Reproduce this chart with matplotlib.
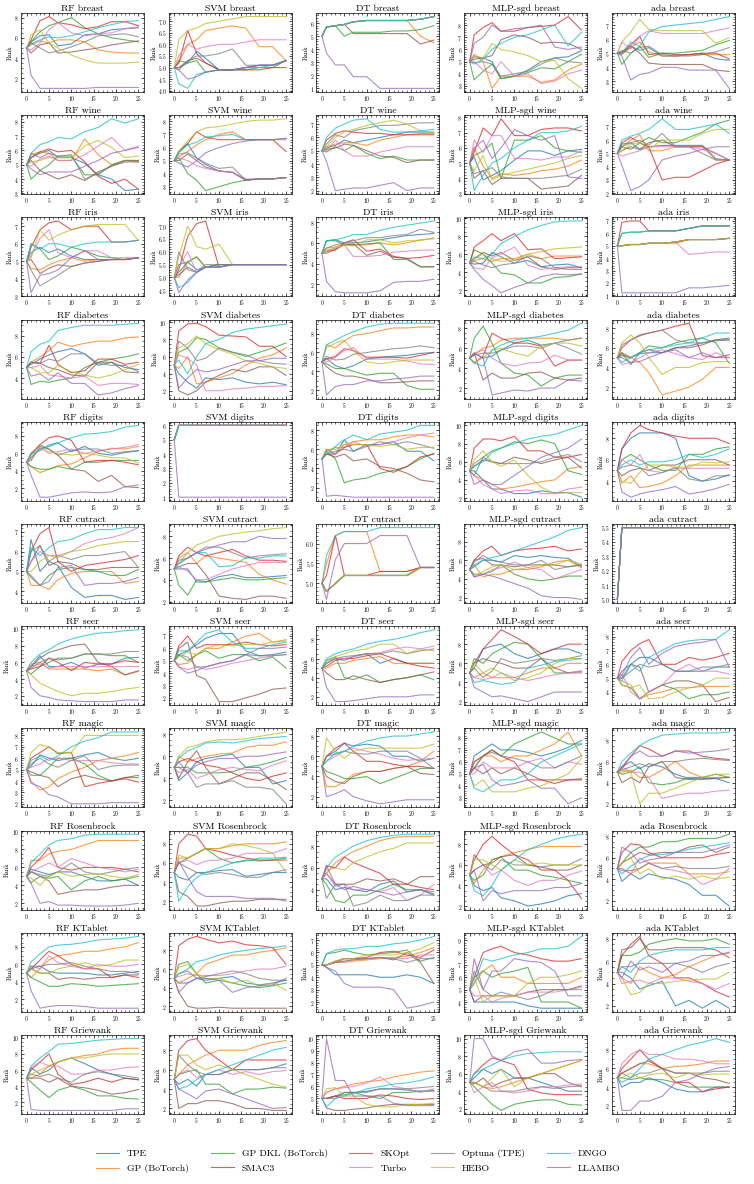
import matplotlib
matplotlib.use("Agg")
import matplotlib.pyplot as plt
from matplotlib.ticker import AutoMinorLocator

plt.rcParams['font.family'] = ['serif']
plt.rcParams['font.serif'] = ['cmr10', 'DejaVu Serif']
plt.rcParams['mathtext.fontset'] = 'cm'
plt.rcParams['axes.formatter.use_mathtext'] = True

ITER = [0, 1, 3, 5, 7, 10, 13, 16, 19, 22, 25]
METHODS = ["TPE", "GP (BoTorch)", "GP DKL (BoTorch)", "SMAC3", "SKOpt",
           "Turbo", "Optuna (TPE)", "HEBO", "DNGO", "LLAMBO"]
MODELS = ["RF", "SVM", "DT", "MLP-sgd", "ada"]
DATASETS = ["breast", "wine", "iris", "diabetes", "digits", "cutract", "seer",
            "magic", "Rosenbrock", "KTablet", "Griewank"]

# ---- rows: series in METHODS order ----
RF_breast = [[5,5.6,6.2,6.3,5.2,5.4,6.3,6.4,6.8,6.9,7.0],[5,5.3,5.7,5.5,5.8,5.8,5.6,4.8,4.6,4.5,4.5],[5,5.6,6.6,7.2,7.5,8.0,7.0,6.4,6.0,5.8,5.6],[5,5.8,7.7,8.1,7.5,7.3,6.9,7.1,7.6,7.6,7.2],[5,4.5,5.3,5.5,4.5,4.6,4.8,5.0,5.3,5.5,5.7],[5,4.8,5.5,6.8,7.5,6.5,6.2,6.4,6.5,6.9,7.1],[5,5.5,5.0,4.5,4.7,5.1,5.6,6.2,6.3,6.4,6.1],[5,6.3,6.8,5.5,5.0,4.3,3.8,3.5,3.5,3.5,3.6],[5,5.4,5.8,6.1,6.0,6.2,6.6,7.0,7.3,7.6,7.7],[5,2.3,1.0,1.0,1.0,1.0,1.0,1.1,1.1,1.1,1.1]]
SVM_breast = [[5,5.0,5.2,5.7,5.4,4.9,4.9,5.0,5.1,5.1,5.3],[5,5.2,6.0,6.2,6.6,6.7,6.8,6.7,5.9,5.9,5.3],[5,5.3,5.2,5.3,4.8,4.9,4.9,4.9,5.0,5.0,5.3],[5,5.2,6.6,5.6,5.2,4.9,4.9,4.9,4.9,5.0,5.0],[5,4.9,5.3,5.4,5.2,4.9,4.9,5.0,5.1,5.1,5.3],[5,5.5,6.0,5.8,5.9,6.0,6.0,6.1,6.2,6.2,6.2],[5,5.0,5.3,5.5,5.5,5.6,5.8,5.1,5.1,5.1,5.3],[5,6.2,6.6,6.7,6.9,7.0,7.1,7.2,7.2,7.2,7.2],[5,4.3,4.1,4.7,4.8,4.9,4.9,5.0,5.0,5.1,5.3],[5,4.9,4.5,4.6,4.8,4.9,4.9,5.0,5.1,5.1,5.3]]
DT_breast = [[5,5.7,5.8,5.9,6.1,6.2,6.2,6.2,6.2,6.3,6.5],[5,5.7,5.8,5.9,6.1,6.2,6.2,6.2,6.2,5.0,4.5],[5,5.7,5.8,5.0,5.3,5.3,5.3,5.4,5.4,5.5,5.8],[5,5.7,5.8,5.9,6.1,6.2,6.2,6.2,6.2,6.3,6.5],[5,5.7,5.8,5.9,5.2,5.2,5.2,5.2,5.2,4.4,4.7],[5,5.7,5.8,5.9,6.1,6.2,6.2,6.2,6.2,6.3,6.5],[5,5.7,5.8,5.9,6.1,6.2,6.2,6.2,6.2,6.3,6.5],[5,5.7,5.8,5.9,6.1,6.2,6.2,6.2,6.2,6.3,6.5],[5,5.7,5.8,5.9,6.1,6.2,6.2,6.2,6.2,6.3,6.5],[5,3.7,2.8,2.8,1.9,1.9,1.0,1.0,1.0,1.0,1.0]]
MLP_breast = [[5,5.4,5.3,5.0,3.6,3.8,4.3,5.0,5.3,5.4,5.9],[5,5.6,5.0,2.8,3.8,3.8,3.8,3.3,3.5,4.3,4.8],[5,3.5,4.2,4.8,3.6,3.8,4.1,4.5,4.4,5.0,5.6],[5,7.2,7.8,8.2,7.5,7.5,7.8,7.9,8.0,8.7,7.6],[5,5.2,5.3,5.5,6.8,7.2,7.0,6.5,6.6,6.5,6.0],[5,5.0,4.3,4.0,5.0,3.8,4.0,3.2,3.4,4.0,4.3],[5,4.9,5.0,4.8,3.8,4.0,4.2,4.8,5.3,5.0,4.9],[5,5.5,5.3,6.5,6.0,5.8,5.5,5.0,5.1,3.6,2.8],[5,4.8,5.2,6.0,6.5,7.0,7.2,7.6,8.0,6.3,7.4],[5,6.5,7.0,8.0,7.5,7.7,7.8,8.0,6.2,6.0,6.2]]
ada_breast = [[5,5.0,5.5,5.2,5.4,4.8,4.8,4.9,5.0,4.6,4.5],[5,4.9,5.4,5.8,5.1,4.8,4.8,4.9,4.9,4.9,4.9],[5,4.2,5.0,5.5,4.7,5.0,5.0,5.1,5.2,5.6,5.9],[5,5.1,5.6,6.2,4.9,5.0,4.9,4.9,5.0,5.0,4.6],[5,5.0,5.5,5.0,4.3,4.2,4.2,4.2,4.2,3.8,3.7],[5,5.8,5.3,6.2,6.6,6.4,6.4,6.4,6.4,6.6,6.8],[5,5.2,5.0,5.4,5.5,4.9,4.8,4.8,4.9,5.1,5.4],[5,5.8,6.5,7.4,6.7,6.6,6.6,6.6,6.6,5.7,6.1],[5,5.0,5.8,5.5,6.5,6.9,7.0,7.1,7.2,7.4,7.6],[5,4.8,3.1,3.5,3.6,4.0,4.0,3.8,3.8,3.8,2.5]]

RF_wine = [[5,5.5,5.8,6.0,5.5,5.5,5.1,4.3,4.0,3.2,3.3],[5,5.7,5.9,5.8,5.3,5.3,6.8,5.7,5.0,5.3,5.2],[5,4.0,4.6,5.0,5.6,5.6,4.3,4.3,5.0,5.3,5.3],[5,5.5,5.9,6.1,5.9,6.0,5.2,4.2,3.7,4.0,3.3],[5,5.3,4.6,4.3,4.0,4.3,3.9,4.5,4.9,5.2,5.2],[5,4.9,5.4,5.6,5.3,5.3,5.7,6.3,6.9,6.0,6.3],[5,5.8,5.5,5.8,5.6,5.7,4.0,4.4,4.9,5.3,5.3],[5,5.2,5.3,5.5,5.5,5.5,6.3,6.7,6.2,5.5,5.6],[5,5.8,6.4,6.6,6.9,6.8,7.3,7.6,8.2,7.9,8.2],[5,4.7,4.3,4.5,4.5,4.5,4.9,5.3,5.8,6.0,6.2]]
SVM_wine = [[5,5.7,6.3,5.2,4.7,4.2,4.1,3.5,3.6,3.6,3.7],[5,5.3,5.7,6.2,6.6,7.0,7.2,6.6,6.6,6.6,6.6],[5,5.2,4.0,3.5,2.7,3.0,3.3,3.5,3.6,3.6,3.7],[5,5.7,6.3,7.2,6.8,6.6,6.6,6.6,6.6,6.6,5.7],[5,5.0,5.5,5.0,4.5,4.2,4.1,3.5,3.6,3.6,3.7],[5,5.2,5.0,4.6,4.4,4.2,4.1,3.6,3.6,3.6,3.7],[5,5.5,5.6,5.2,4.8,4.4,4.5,3.5,3.6,3.6,3.7],[5,5.7,6.5,7.2,7.5,7.6,7.8,8.0,8.1,8.1,8.2],[5,5.6,6.2,6.4,6.8,6.9,7.0,6.6,6.6,6.6,6.7],[5,4.8,4.5,5.0,5.6,6.0,6.3,6.5,6.6,6.6,6.7]]
DT_wine = [[5,5.2,5.4,5.8,5.6,5.8,6.0,6.2,6.4,6.4,6.4],[5,5.3,5.5,5.6,5.6,5.4,5.8,6.0,6.2,6.3,6.3],[5,4.9,5.3,5.0,5.4,4.8,4.4,4.6,4.3,4.3,4.3],[5,5.8,6.3,6.5,6.4,6.3,6.3,6.2,6.2,6.2,6.2],[5,5.1,5.2,5.5,5.4,5.0,4.6,4.5,4.1,4.3,4.3],[5,5.0,5.8,5.0,4.6,4.6,4.9,5.1,5.3,5.3,5.3],[5,5.5,6.2,6.0,6.5,6.7,6.9,6.9,7.0,7.1,7.1],[5,5.3,6.0,6.4,6.6,6.9,7.1,7.3,7.0,6.5,6.3],[5,6.0,6.7,7.0,7.3,7.4,6.6,6.4,6.4,6.5,6.6],[5,4.2,2.0,2.1,2.2,2.2,2.4,2.6,2.0,2.2,2.2]]
MLP_wine = [[5,5.4,3.9,4.2,4.5,5.2,5.8,5.8,5.5,5.8,5.9],[5,6.0,4.8,4.0,4.3,4.2,4.3,4.5,4.6,4.8,5.2],[5,5.5,5.8,6.3,4.0,6.5,6.5,6.8,6.0,5.8,5.7],[5,5.7,7.3,6.8,7.9,6.8,6.8,7.2,7.3,7.3,7.1],[5,4.0,4.5,3.6,4.0,4.0,4.0,3.3,3.4,3.5,4.2],[5,6.5,5.7,6.8,6.8,5.3,5.3,5.2,5.4,5.4,5.8],[5,4.3,4.5,4.7,4.1,4.0,4.0,4.0,4.1,4.2,4.6],[5,4.5,5.5,3.9,4.2,4.4,4.6,4.8,5.0,5.3,5.5],[5,3.2,4.2,5.0,5.3,6.0,6.5,7.0,7.0,7.1,7.4],[5,6.0,6.5,5.3,6.0,7.2,6.8,6.5,6.8,4.1,4.0]]
ada_wine = [[5,5.7,5.8,5.3,5.5,5.6,5.6,5.6,5.6,4.6,4.5],[5,5.5,6.0,6.4,5.2,5.2,5.5,5.5,5.5,4.5,4.5],[5,5.5,5.3,5.8,6.2,5.8,5.8,6.2,6.6,7.2,7.5],[5,5.8,6.2,5.8,5.5,3.0,3.2,3.2,3.7,4.2,4.5],[5,5.2,5.5,5.3,5.8,6.0,5.5,5.5,5.5,5.0,4.5],[5,4.8,5.0,5.2,5.5,5.5,5.5,5.5,5.3,5.0,4.5],[5,5.5,5.8,6.0,5.6,6.5,5.5,5.5,5.0,4.5,4.5],[5,5.2,5.7,5.8,5.3,6.0,6.0,6.0,6.5,6.8,6.8],[5,6.0,6.3,6.5,6.8,7.6,6.8,6.8,7.0,7.2,6.5],[5,4.1,2.2,2.5,3.0,4.5,4.8,5.0,5.3,5.5,5.5]]

RF_iris = [[5,5.5,5.8,5.5,5.7,5.3,5.1,5.1,5.1,5.1,5.2],[5,4.6,4.5,4.8,5.0,5.2,5.0,5.1,5.1,5.1,5.2],[5,6.0,5.7,5.1,5.3,5.8,5.6,5.3,5.2,5.1,5.2],[5,5.8,6.8,7.2,7.3,6.8,7.0,7.0,6.1,6.1,6.2],[5,5.1,4.3,4.6,4.8,4.7,4.9,5.0,5.1,5.1,5.2],[5,5.3,6.3,6.8,5.5,5.2,5.6,5.6,5.2,5.2,5.2],[5,4.5,3.6,3.9,4.2,4.7,4.9,5.0,5.1,5.1,5.2],[5,5.2,6.8,6.2,6.5,6.8,7.0,7.1,7.1,7.1,6.2],[5,6.0,5.7,6.0,6.0,5.8,6.0,6.1,6.1,6.1,6.2],[5,3.2,4.2,4.3,4.5,5.2,5.6,5.1,5.1,5.1,5.2]]
SVM_iris = [[5,5.2,5.6,5.3,5.4,5.5,5.5,5.5,5.5,5.5,5.5],[5,5.0,5.6,5.8,5.4,5.5,5.5,5.5,5.5,5.5,5.5],[5,5.5,5.6,5.8,5.4,5.5,5.5,5.5,5.5,5.5,5.5],[5,5.3,6.6,7.1,7.2,5.4,5.5,5.5,5.5,5.5,5.5],[5,5.1,5.4,5.2,5.4,5.4,5.5,5.5,5.5,5.5,5.5],[5,5.4,6.0,5.2,5.4,5.4,5.5,5.5,5.5,5.5,5.5],[5,6.0,5.3,5.2,5.5,5.5,5.5,5.5,5.5,5.5,5.5],[5,5.8,7.0,6.2,6.1,6.3,5.5,5.5,5.5,5.5,5.5],[5,4.6,4.8,5.2,5.4,5.4,5.5,5.5,5.5,5.5,5.5],[5,4.4,4.9,5.2,5.4,5.4,5.5,5.5,5.5,5.5,5.5]]
DT_iris = [[5,6.2,6.3,6.0,6.0,6.1,6.3,6.5,6.7,6.8,6.9],[5,5.5,5.6,5.9,5.8,5.8,6.0,5.8,6.0,6.3,6.4],[5,6.2,6.2,5.8,5.8,5.9,6.0,4.4,4.4,3.7,3.7],[5,5.2,5.3,6.0,6.3,5.2,5.4,4.7,4.5,4.6,4.8],[5,5.0,5.4,5.8,5.9,4.8,5.2,4.6,4.5,3.7,3.7],[5,5.2,5.5,5.8,4.7,4.7,4.8,5.1,5.2,5.3,5.3],[5,5.5,5.8,6.0,6.2,6.5,6.5,6.7,6.8,7.3,7.0],[5,5.3,5.5,5.8,5.7,6.3,6.3,6.0,6.2,6.2,6.5],[5,6.2,6.3,6.5,6.8,6.8,7.2,7.5,7.7,7.9,8.1],[5,2.3,1.3,1.2,1.2,1.2,1.4,2.2,2.3,2.3,2.5]]
MLP_iris = [[5,4.9,5.0,6.2,5.7,5.0,5.3,4.6,4.8,4.9,4.5],[5,5.3,5.5,5.2,5.5,5.5,6.0,5.5,5.8,5.8,5.8],[5,6.5,6.0,5.0,3.9,3.7,2.8,2.8,3.4,3.5,3.8],[5,6.8,7.5,8.3,7.5,8.3,6.5,6.6,5.5,5.6,5.7],[5,5.5,6.2,5.8,6.2,5.3,5.7,4.6,4.3,4.5,4.5],[5,4.5,4.3,5.6,6.0,6.8,4.8,4.3,4.5,4.6,4.6],[5,5.2,4.8,4.5,4.8,5.0,5.8,5.5,4.5,4.3,4.3],[5,5.5,6.0,5.5,5.2,5.3,6.0,6.3,6.6,6.7,6.8],[5,5.7,5.5,6.0,7.2,8.0,8.7,9.2,9.6,9.7,9.7],[5,4.3,3.2,2.5,1.7,2.3,2.8,3.5,3.8,3.7,3.8]]
ada_iris = [[5,5.0,5.1,5.1,5.2,5.2,5.3,5.5,5.5,5.5,5.6],[5,5.0,5.1,5.1,5.2,5.2,5.2,5.5,5.5,5.5,5.6],[5,6.0,6.1,6.1,6.2,6.2,6.2,6.4,6.6,6.6,6.6],[5,6.9,7.0,7.0,6.2,6.2,6.2,6.4,6.6,6.6,6.6],[5,5.0,5.1,5.1,5.2,5.2,5.3,5.5,5.5,5.5,5.6],[5,5.0,5.1,5.1,5.2,5.2,5.3,4.3,4.4,4.5,4.5],[5,5.0,5.1,5.1,5.2,5.2,5.3,5.5,5.5,5.5,5.6],[5,5.0,5.1,5.1,5.2,5.2,5.3,5.5,5.5,5.5,5.6],[5,6.0,6.1,6.1,6.2,6.2,6.2,6.4,6.6,6.6,6.6],[5,1.2,1.2,1.2,1.2,1.2,1.2,1.6,1.6,1.7,1.8]]

RF_diabetes = [[5,5.3,5.8,6.2,6.5,6.8,6.3,5.2,5.5,5.0,4.8],[5,5.5,6.0,6.6,7.4,7.0,7.3,7.5,7.5,7.8,7.9],[5,3.4,3.7,3.6,3.8,4.0,5.0,5.5,5.8,6.0,6.3],[5,5.5,5.4,7.1,5.3,4.5,4.7,5.8,5.8,5.3,5.5],[5,5.5,5.4,5.0,4.8,4.3,4.2,5.5,5.5,4.6,4.5],[5,5.0,5.2,4.3,4.2,4.0,4.2,3.3,3.5,3.5,3.4],[5,5.5,5.4,5.8,5.6,6.3,6.3,5.4,5.2,5.2,4.6],[5,5.0,4.5,4.5,5.2,4.6,4.3,4.0,4.3,4.8,5.3],[5,6.5,7.2,7.5,8.5,8.8,9.0,9.0,9.0,9.1,9.2],[5,4.2,4.4,3.8,4.5,3.5,3.5,2.4,2.6,3.0,3.3]]
SVM_diabetes = [[5,4.0,3.0,2.3,3.5,3.3,3.5,3.0,2.8,3.0,2.7],[5,4.6,6.0,2.8,3.0,3.5,4.0,5.0,5.8,6.2,7.0],[5,6.5,7.0,8.2,8.0,7.0,6.5,6.0,6.5,7.0,7.6],[5,9.0,9.8,9.9,9.5,8.5,8.4,8.3,7.2,7.2,6.0],[5,2.0,1.5,2.0,3.0,3.8,4.5,4.2,4.8,4.8,3.8],[5,6.2,5.8,5.0,2.0,2.0,2.2,2.3,2.5,2.5,2.6],[5,7.8,7.0,5.5,5.8,7.0,6.5,6.2,5.5,5.2,5.1],[5,7.0,7.5,8.4,7.5,6.8,6.3,5.5,5.2,4.8,4.6],[5,5.6,4.0,6.0,7.5,8.0,8.8,9.2,9.4,9.6,9.8],[5,2.3,3.5,4.5,4.2,4.5,5.0,5.5,5.5,5.8,5.8]]
DT_diabetes = [[5,5.4,4.6,4.3,4.6,5.3,5.5,5.6,5.7,5.9,6.0],[5,6.8,6.5,7.2,7.8,8.0,8.3,8.6,8.6,8.7,8.7],[5,4.8,4.3,4.3,4.0,3.6,3.8,3.8,2.5,2.1,2.1],[5,5.3,5.6,6.4,6.2,5.5,5.5,5.5,5.4,5.7,6.0],[5,4.5,3.8,3.5,3.5,3.2,2.8,2.8,2.9,3.0,3.0],[5,5.0,5.5,6.2,6.5,5.3,5.3,5.3,5.1,4.8,4.7],[5,5.6,5.2,5.3,5.8,6.0,6.2,6.4,6.5,6.7,6.5],[5,6.5,7.0,7.3,6.2,5.0,4.8,5.0,5.2,5.2,5.2],[5,6.8,7.3,7.8,8.2,8.7,9.0,9.1,9.1,9.1,9.1],[5,1.5,2.4,2.6,2.6,3.0,3.0,3.2,3.3,3.5,3.5]]
MLP_diabetes = [[5,5.5,5.0,5.2,5.8,6.5,6.8,6.3,6.5,6.8,7.0],[5,5.3,6.0,6.2,6.8,7.0,7.0,7.0,7.0,6.8,7.0],[5,7.0,8.2,6.5,4.5,3.5,3.3,2.2,3.0,3.3,3.3],[5,4.5,5.2,7.5,7.0,6.5,6.5,6.2,4.2,4.8,4.8],[5,5.5,2.8,3.5,3.0,3.0,3.5,3.6,3.0,2.8,3.0],[5,5.5,5.8,5.0,4.5,4.2,4.5,4.6,5.3,4.8,4.8],[5,5.3,5.5,5.5,5.8,6.2,6.2,6.0,6.5,6.0,5.4],[5,4.6,5.0,5.8,6.0,5.5,5.2,6.2,6.5,6.5,6.2],[5,4.5,4.2,5.8,6.3,6.8,7.0,7.2,7.5,7.8,8.5],[5,5.5,5.0,1.3,1.5,1.8,1.7,2.0,2.0,2.8,2.7]]
ada_diabetes = [[5,5.2,5.0,5.4,5.5,5.5,6.0,6.2,6.5,6.8,7.0],[5,5.3,5.0,4.5,3.5,1.2,1.6,2.0,2.8,4.0,4.0],[5,5.5,4.3,5.5,6.2,6.0,6.5,6.8,7.0,6.5,4.4],[5,6.0,6.8,7.3,7.5,7.8,8.2,8.5,5.2,5.0,5.3],[5,5.5,5.0,5.5,5.8,5.5,6.0,6.0,6.3,6.8,6.8],[5,4.3,4.5,5.0,5.5,5.8,5.4,5.0,4.8,5.5,5.0],[5,6.3,6.8,7.2,7.5,7.8,6.8,6.5,6.5,6.7,6.8],[5,6.5,7.3,6.5,5.0,3.3,4.0,4.0,4.5,4.6,4.6],[5,4.5,5.0,5.5,5.8,6.0,6.3,6.5,7.0,7.5,7.5],[5,5.0,4.5,4.6,5.0,5.5,5.8,5.0,5.5,5.0,5.0]]

RF_digits = [[5,5.5,6.5,6.8,7.2,6.2,6.8,6.0,5.8,6.1,6.3],[5,4.5,3.8,4.2,4.6,4.8,5.5,6.2,6.6,6.5,6.8],[5,4.5,4.2,4.2,4.5,4.2,5.0,5.0,5.2,5.2,5.2],[5,6.0,7.0,7.8,8.0,7.5,5.0,5.2,5.2,5.0,4.7],[5,5.2,6.8,6.5,5.8,4.2,4.0,2.8,3.5,2.2,2.1],[5,5.5,6.6,6.0,6.2,6.5,6.0,6.3,6.5,6.7,7.0],[5,5.8,7.0,6.5,5.8,6.3,6.5,6.5,6.0,6.2,6.3],[5,5.5,6.8,6.2,6.0,5.8,6.0,5.8,5.5,5.5,4.9],[5,6.0,6.3,7.0,7.2,7.8,8.2,8.3,8.5,9.0,9.2],[5,3.5,1.0,1.0,1.2,1.5,1.6,1.5,1.6,2.2,2.4]]
SVM_digits = [[5,6,6,6,6,6,6,6,6,6,6],[5,6,6,6,6,6,6,6,6,6,6],[5,6,6,6,6,6,6,6,6,6,6],[5,6,6,6,6,6,6,6,6,6,6],[5,6,6,6,6,6,6,6,6,6,6],[5,6,6,6,6,6,6,6,6,6,6],[5,6,6,6,6,6,6,6,6,6,6],[5,6,6,6,6,6,6,6,6,6,6],[5,6,6,6,6,6,6,6,6,6,6],[5,1,1,1,1,1,1,1,1,1,1]]
DT_digits = [[5,6.0,5.5,7.0,5.8,6.5,6.5,6.8,5.8,5.8,4.8],[5,5.8,6.2,6.2,6.8,7.0,7.0,7.3,7.5,7.5,7.3],[5,5.8,5.0,2.5,2.8,3.0,3.5,3.8,4.2,5.0,5.6],[5,5.5,5.5,6.2,6.5,6.5,4.0,3.6,4.2,5.2,5.5],[5,5.5,5.2,5.5,4.8,5.0,4.2,4.0,3.5,2.8,2.6],[5,6.0,5.5,6.5,6.8,6.3,6.5,6.8,7.2,7.5,7.7],[5,5.5,5.8,6.0,5.8,6.3,6.8,6.5,6.8,6.5,6.1],[5,6.0,6.0,6.5,6.5,6.5,6.3,6.5,6.0,6.2,6.2],[5,5.5,6.3,7.0,7.5,7.0,7.6,7.8,8.0,8.5,8.5],[5,1.1,1.2,1.1,1.0,1.0,1.0,1.0,1.0,1.0,1.0]]
MLP_digits = [[5,5.0,4.0,3.0,3.0,2.5,2.5,2.8,2.6,2.6,2.1],[5,4.5,4.0,3.5,3.0,3.2,3.5,3.8,4.0,5.2,5.5],[5,4.5,6.5,7.2,7.5,8.2,8.0,8.4,8.0,5.0,4.6],[5,7.5,8.5,8.5,8.3,8.8,7.2,7.2,6.5,6.5,6.8],[5,5.5,6.2,6.0,5.8,6.5,6.2,5.8,6.2,6.5,5.3],[5,4.5,3.5,3.0,2.5,2.8,2.9,2.5,2.5,3.0,3.2],[5,5.8,6.5,6.0,5.8,5.8,5.8,6.0,6.5,6.8,6.0],[5,6.2,7.2,6.0,5.5,6.2,4.5,3.2,2.5,2.6,2.6],[5,5.5,6.0,7.0,7.5,8.0,8.5,8.8,9.0,9.5,10.0],[5,3.5,4.0,3.5,3.5,4.5,5.5,6.5,7.0,7.5,8.5]]
ada_digits = [[5,7.0,8.0,8.5,8.5,8.5,8.0,4.5,4.0,4.2,4.6],[5,3.8,4.5,3.4,3.5,3.8,4.5,5.5,5.5,5.5,5.5],[5,6.0,6.5,6.0,5.5,5.0,5.0,6.5,6.5,7.0,7.2],[5,7.0,8.5,9.2,8.8,8.5,8.2,8.0,8.0,8.0,7.5],[5,4.5,5.0,5.2,5.0,5.5,5.5,6.0,6.0,6.0,5.5],[5,6.0,5.5,6.5,5.0,4.8,5.2,5.2,5.2,5.2,5.2],[5,5.3,5.5,5.3,4.5,4.8,5.3,4.2,4.0,4.5,4.5],[5,4.0,3.8,4.8,5.5,5.5,5.3,5.3,5.8,5.7,5.8],[5,5.5,6.0,5.5,5.8,5.8,6.0,6.5,6.2,6.5,7.0],[5,3.0,2.5,2.8,3.0,3.2,3.5,2.8,3.0,3.3,3.7]]

RF_cutract = [[5,6.6,5.0,5.5,5.3,4.2,3.7,3.8,3.8,3.6,3.7],[5,4.3,4.3,4.1,4.6,4.9,5.0,5.0,5.0,4.4,4.5],[5,4.7,4.3,4.8,5.1,5.2,5.1,5.0,4.8,4.8,5.1],[5,6.0,6.9,7.2,5.5,5.0,5.3,5.4,5.5,5.6,5.8],[5,5.5,6.3,5.3,5.5,5.4,5.1,5.1,5.2,5.2,5.2],[5,5.5,6.0,5.8,5.8,6.0,6.4,6.6,6.7,6.9,7.2],[5,6.0,6.3,5.5,5.8,5.6,5.8,5.8,5.9,6.0,5.2],[5,5.0,5.5,5.8,5.7,6.0,6.1,6.3,6.4,6.5,6.5],[5,6.2,5.8,6.2,6.5,6.6,6.9,7.1,7.1,7.2,7.2],[5,4.8,4.3,4.5,5.2,5.3,4.3,4.4,4.4,4.5,4.7]]
SVM_cutract = [[5,5.0,5.0,3.8,3.8,4.3,4.5,4.2,4.2,4.3,4.4],[5,6.0,6.5,5.5,6.2,6.0,5.8,5.6,4.5,4.0,3.6],[5,3.5,2.6,4.0,3.8,4.0,4.2,4.0,4.0,4.1,4.2],[5,6.2,7.0,6.5,6.2,6.5,6.8,6.2,5.8,5.8,5.7],[5,5.2,5.5,5.5,4.5,2.5,2.3,2.2,2.5,2.5,2.3],[5,5.2,4.8,4.0,4.0,4.5,5.0,5.3,5.6,5.6,5.6],[5,5.5,6.0,6.5,7.0,7.0,6.5,6.0,6.2,6.3,6.4],[5,5.5,6.5,7.2,7.5,8.0,8.2,8.4,8.5,8.7,8.8],[5,5.5,6.0,6.5,6.5,5.2,5.3,6.0,6.0,6.2,6.2],[5,5.8,6.0,6.5,6.8,7.2,7.5,7.5,8.0,7.8,7.8]]
DT_cutract = [[5,4.8,5.0,5.2,5.2,5.2,5.2,5.2,5.2,5.4,5.4],[5,5.5,6.2,6.3,6.3,6.3,5.3,5.3,5.3,5.4,5.4],[5,4.8,5.0,5.2,5.2,5.2,5.2,5.2,5.2,5.4,5.4],[5,5.2,6.2,5.2,5.2,5.2,5.3,5.3,5.3,5.4,5.4],[5,4.8,5.0,5.2,5.2,5.2,5.2,5.2,5.2,5.4,5.4],[5,4.8,5.0,5.2,5.2,5.2,5.2,5.2,5.2,5.4,5.4],[5,4.8,5.0,5.2,5.2,5.2,5.2,5.2,5.2,5.4,5.4],[5,4.8,5.0,5.2,5.2,5.2,5.2,5.2,5.2,5.4,5.4],[5,5.7,6.2,6.3,6.3,6.3,6.4,6.4,6.4,6.4,6.4],[5,4.6,5.6,6.0,6.0,6.0,6.2,6.2,6.2,5.4,5.4]]
MLP_cutract = [[5,5.3,6.0,6.0,5.8,6.5,6.3,6.5,6.3,6.2,5.3],[5,5.5,4.2,4.5,4.5,5.0,5.0,5.3,5.8,6.0,5.2],[5,4.5,4.5,4.8,5.5,4.5,4.0,3.8,4.0,4.3,4.3],[5,6.0,7.0,7.5,6.5,7.0,7.2,7.3,7.5,7.0,7.2],[5,6.0,6.2,5.5,5.5,5.3,5.5,5.5,5.5,5.3,5.5],[5,4.2,4.5,5.0,5.2,5.8,5.2,5.0,4.0,4.5,5.0],[5,5.8,6.5,6.0,5.8,5.5,5.5,6.0,5.0,5.3,5.5],[5,4.3,4.8,5.3,5.5,5.0,5.2,5.5,5.5,6.0,5.6],[5,5.5,6.0,6.3,6.5,7.0,7.5,8.0,8.5,9.2,9.5],[5,4.2,4.5,4.3,4.0,3.5,3.0,2.2,2.0,2.0,1.8]]
ada_cutract = [[5,5.5,5.5,5.5,5.5,5.5,5.5,5.5,5.5,5.5,5.5] for _ in range(10)]

RF_seer = [[5,5.5,6.8,5.5,5.5,6.0,5.3,5.8,5.8,6.5,6.6],[5,5.8,6.0,5.2,5.2,5.2,5.2,5.0,5.2,4.5,4.9],[5,4.6,5.5,6.0,6.5,6.5,7.0,7.0,6.8,6.8,6.0],[5,5.2,5.5,6.5,6.0,5.0,6.0,5.8,5.8,6.2,6.0],[5,5.5,6.5,7.2,7.5,8.0,8.2,6.0,5.5,4.5,5.0],[5,5.5,5.8,5.3,5.5,5.5,5.5,5.5,5.5,5.5,5.5],[5,5.3,6.0,6.5,6.3,6.5,7.0,7.0,7.0,7.3,7.3],[5,4.5,3.5,3.0,2.5,2.0,2.3,2.3,2.5,2.8,3.0],[5,6.0,7.0,7.5,8.2,8.8,9.2,9.5,9.6,9.8,9.9],[5,3.0,2.0,1.8,1.5,1.4,1.3,1.3,1.3,1.5,1.5]]
SVM_seer = [[5,5.5,5.8,6.3,6.8,7.2,7.2,5.8,5.4,5.5,5.7],[5,4.7,4.8,5.5,6.0,6.0,6.5,7.0,7.2,6.5,6.7],[5,5.5,5.0,5.5,5.8,5.2,5.5,5.5,5.0,5.3,4.4],[5,6.2,7.0,6.0,6.3,6.3,6.3,6.5,6.3,6.2,6.3],[5,6.0,6.5,3.8,3.5,1.7,1.7,2.0,2.3,2.7,2.8],[5,4.5,4.3,4.5,4.3,4.5,4.8,5.0,5.2,5.4,5.5],[5,5.5,5.3,4.5,4.5,4.8,5.0,5.5,5.4,5.4,5.5],[5,5.3,5.7,5.5,6.0,6.3,6.2,6.3,6.3,6.5,6.6],[5,5.8,5.8,6.5,7.2,7.5,6.5,6.0,6.0,6.3,6.5],[5,4.5,4.0,4.2,4.5,4.8,5.0,5.5,6.0,6.0,6.1]]
DT_seer = [[5,5.5,6.0,5.8,6.2,6.5,5.5,6.0,5.5,5.5,5.5],[5,5.0,5.5,5.5,5.8,6.0,6.2,5.5,5.5,5.5,5.5],[5,5.8,6.2,4.0,3.8,4.3,3.5,3.8,4.0,4.3,3.8],[5,5.2,5.8,6.0,6.0,6.3,6.5,6.0,5.5,5.2,5.0],[5,4.5,3.8,3.8,4.2,3.8,3.5,3.8,4.0,4.3,4.6],[5,5.8,6.0,6.0,6.2,6.5,6.6,7.0,7.2,7.0,7.3],[5,5.5,6.0,6.2,6.3,6.5,6.5,6.8,6.5,6.8,7.0],[5,5.8,6.2,6.5,6.8,7.0,7.5,7.5,6.5,7.0,6.8],[5,6.0,6.5,6.8,7.0,7.5,7.8,8.0,8.3,8.7,9.0],[5,3.0,1.5,1.5,1.6,1.8,2.0,2.0,2.0,2.2,2.2]]
MLP_seer = [[5,5.5,7.5,7.8,8.0,7.0,6.5,7.0,7.5,7.5,7.0],[5,4.5,5.0,4.5,4.5,4.5,5.0,5.5,5.5,6.0,6.0],[5,6.5,6.0,7.0,7.5,8.2,8.0,6.5,5.0,5.0,5.2],[5,6.0,7.5,8.5,9.5,8.8,8.0,7.0,7.5,8.0,8.0],[5,6.0,6.5,6.2,6.0,5.5,5.5,6.5,5.5,5.0,5.0],[5,4.5,4.3,4.5,5.0,4.5,4.2,4.5,4.8,5.0,5.2],[5,5.5,4.5,5.2,6.5,6.0,6.2,6.5,6.3,6.5,6.8],[5,6.0,5.0,5.5,5.0,4.2,4.5,5.0,6.0,6.5,6.5],[5,4.0,4.2,4.0,3.8,4.0,5.5,5.8,6.2,6.3,6.5],[5,3.5,3.0,2.5,2.6,2.3,2.0,2.5,3.0,3.0,3.0]]
ada_seer = [[5,5.5,6.0,6.5,6.5,6.0,5.5,5.5,5.5,5.8,5.8],[5,4.8,4.5,3.5,3.8,4.0,4.3,4.3,4.4,4.4,4.4],[5,4.5,4.3,3.5,4.0,4.5,4.2,3.5,3.8,3.8,4.0],[5,6.2,7.0,7.5,7.8,6.0,6.0,6.5,6.3,6.5,6.8],[5,5.0,6.0,5.8,4.0,4.5,4.8,4.8,4.5,3.3,3.6],[5,5.3,4.0,3.5,4.0,4.5,5.5,6.0,5.5,5.5,5.3],[5,5.0,5.5,6.0,5.8,6.0,5.5,5.5,5.8,5.8,6.0],[5,4.5,4.3,4.5,3.5,3.6,4.0,4.3,4.5,5.0,5.0],[5,4.8,6.0,5.5,6.5,7.0,7.5,7.7,7.8,7.8,8.5],[5,5.2,6.5,7.2,6.0,6.8,7.3,7.5,7.6,7.8,5.8]]

RF_magic = [[5,5.3,6.3,6.0,5.8,6.0,6.3,6.5,6.0,5.8,6.0],[5,4.0,3.2,3.5,4.2,4.8,5.2,5.8,6.0,6.2,6.5],[5,4.5,4.5,5.2,6.0,6.0,5.5,4.5,4.0,4.3,4.3],[5,6.0,6.5,7.0,6.4,6.5,3.5,3.8,4.0,4.2,3.9],[5,4.8,4.5,4.3,3.5,4.2,4.5,4.2,4.0,4.3,4.5],[5,5.2,5.5,6.0,6.0,5.8,5.8,5.8,5.6,5.5,5.5],[5,5.5,6.0,5.5,5.2,5.8,6.2,5.0,5.3,5.4,5.4],[5,6.5,7.2,7.0,6.5,6.5,8.0,8.0,8.0,8.0,8.0],[5,5.8,6.2,5.8,6.2,7.0,7.5,7.8,8.3,8.3,8.3],[5,3.8,3.5,2.8,2.6,2.0,2.0,2.0,2.1,2.1,2.1]]
SVM_magic = [[5,3.8,4.5,5.5,5.8,6.0,6.2,5.0,5.0,3.5,3.8],[5,6.0,5.5,5.8,6.0,6.2,6.3,6.8,7.0,7.0,7.3],[5,5.0,5.0,4.5,4.5,4.5,4.6,5.0,5.2,5.5,5.9],[5,5.5,5.8,5.5,5.2,5.0,4.5,4.0,3.8,4.2,4.5],[5,4.0,5.5,6.5,5.0,3.5,4.0,4.5,4.5,3.8,3.0],[5,4.5,4.8,4.0,4.3,4.8,5.0,4.8,4.7,5.2,5.6],[5,5.0,4.5,3.2,3.5,3.5,3.8,3.2,3.2,3.0,1.7],[5,6.0,6.8,7.0,7.3,7.5,7.5,7.6,7.8,8.0,8.2],[5,5.8,6.5,6.8,7.2,7.3,7.2,7.4,7.6,7.7,7.8],[5,5.5,4.5,5.2,5.5,5.8,5.8,6.0,6.0,6.2,6.4]]
DT_magic = [[5,6.0,6.5,7.3,7.0,7.2,7.0,6.0,6.0,5.5,5.8],[5,3.0,3.0,3.5,4.2,4.5,4.5,4.8,5.0,5.5,6.5],[5,4.5,4.2,3.8,3.8,4.0,3.3,3.8,4.3,4.8,4.8],[5,6.0,6.8,7.3,6.5,5.5,5.5,5.2,5.0,5.0,4.8],[5,4.0,3.5,3.3,4.0,4.5,4.5,4.8,5.0,4.3,4.2],[5,5.5,6.0,6.5,6.8,6.5,6.2,5.8,5.6,5.7,5.8],[5,6.0,6.2,6.5,6.3,6.2,6.5,6.5,6.5,5.8,4.8],[5,7.8,6.5,5.8,6.5,6.8,6.8,6.8,6.8,6.8,7.2],[5,5.5,6.3,6.5,7.0,7.5,7.8,8.0,8.0,8.2,8.4],[5,2.0,2.3,2.7,2.0,1.6,1.3,1.5,1.7,1.7,1.7]]
MLP_magic = [[5,6.5,7.0,7.5,7.0,7.0,6.8,6.5,6.8,7.2,7.8],[5,6.0,6.5,6.5,6.0,6.5,6.5,7.0,7.5,8.5,6.5],[5,5.5,6.5,7.0,6.5,7.5,8.0,8.5,8.0,7.5,7.5],[5,6.0,6.5,7.0,6.5,6.0,4.5,4.5,4.2,4.5,4.5],[5,5.5,5.0,5.5,5.0,5.5,5.0,4.5,4.5,4.5,4.6],[5,5.0,6.0,5.5,5.5,5.5,6.0,6.3,5.5,6.0,5.8],[5,5.5,6.5,6.8,6.5,6.3,6.0,5.5,5.5,6.0,6.5],[5,4.0,4.5,3.5,3.5,3.5,3.8,4.0,4.5,5.0,6.3],[5,3.8,3.5,4.0,4.5,4.5,5.0,6.0,6.5,7.0,7.5],[5,5.5,5.8,4.5,4.0,4.2,4.5,3.8,3.8,2.5,3.0]]
ada_magic = [[5,5.5,6.0,5.3,5.8,5.5,4.8,4.4,4.4,4.4,4.0],[5,5.0,5.2,4.5,4.5,5.2,6.0,5.0,4.5,4.5,4.5],[5,4.8,5.0,5.5,4.0,3.8,4.0,4.5,4.5,4.8,4.5],[5,5.3,6.5,7.5,7.2,6.5,7.0,7.0,6.5,6.3,6.2],[5,4.0,4.5,4.0,5.5,6.0,4.5,4.3,4.3,4.4,4.5],[5,5.5,5.0,5.0,4.5,2.5,2.8,3.0,3.0,3.2,3.3],[5,5.2,5.5,5.8,5.5,6.0,6.0,6.2,6.3,6.2,6.1],[5,5.2,5.0,2.0,3.0,3.0,3.5,4.0,4.5,4.8,4.8],[5,6.0,6.8,7.5,8.0,8.5,8.6,8.7,8.7,8.7,8.8],[5,5.5,6.5,7.0,6.5,6.5,7.0,6.8,6.9,7.0,7.2]]

RF_Rosenbrock = [[5,5.8,5.5,5.2,5.5,5.5,5.0,4.5,4.5,4.7,4.0],[5,6.8,6.8,7.5,7.8,8.0,8.5,9.0,9.0,9.0,9.0],[5,4.3,5.0,4.8,5.0,3.5,4.5,5.0,4.5,4.7,5.0],[5,6.0,7.0,8.2,6.0,5.7,6.0,6.0,6.0,5.8,5.5],[5,5.5,5.0,4.5,3.0,3.3,3.5,3.5,3.8,4.0,4.0],[5,5.5,6.0,6.5,6.0,7.0,6.5,6.0,5.8,5.5,5.8],[5,5.5,5.2,5.0,5.5,6.5,5.5,5.2,5.5,5.8,6.0],[5,4.8,4.0,5.0,5.5,5.0,5.2,5.3,5.0,4.8,5.2],[5,6.5,7.5,8.5,9.0,9.2,9.6,9.7,9.7,9.7,9.7],[5,4.2,2.0,2.2,1.8,1.8,1.7,1.7,1.7,1.8,2.0]]
SVM_Rosenbrock = [[5,4.5,4.2,5.0,5.0,5.2,5.3,4.6,4.8,5.0,5.0],[5,6.5,6.5,7.0,7.5,7.5,7.8,8.0,8.0,8.0,8.2],[5,6.0,6.5,7.0,7.5,6.5,6.0,6.3,6.2,6.3,6.5],[5,8.0,9.0,8.8,7.5,7.2,6.8,6.5,6.3,6.3,6.3],[5,3.0,2.5,1.5,1.5,1.8,2.0,2.0,2.2,2.2,2.2],[5,6.0,6.3,5.8,6.2,6.3,6.5,7.0,7.0,7.0,7.5],[5,6.0,5.5,5.0,4.8,5.0,4.8,4.5,4.5,5.0,5.3],[5,6.8,6.5,7.0,7.5,7.5,8.0,7.8,7.5,7.0,5.0],[5,2.0,3.5,4.5,5.0,5.5,6.0,6.2,6.5,6.5,6.6],[5,6.2,4.5,3.0,2.5,2.5,2.5,2.3,2.3,2.3,2.0]]
DT_Rosenbrock = [[5,5.0,4.0,4.2,4.0,3.8,4.5,4.8,3.8,4.0,3.5],[5,5.5,6.5,7.0,7.5,8.0,8.5,8.8,8.9,8.9,8.9],[5,4.5,3.0,2.8,3.5,3.5,4.0,4.5,4.0,4.0,3.8],[5,6.2,6.0,7.0,6.5,6.0,5.5,4.5,4.5,4.2,4.0],[5,5.5,4.5,4.5,4.5,5.0,4.8,5.0,4.5,5.2,5.2],[5,5.5,4.3,4.5,4.0,4.0,3.8,4.2,3.0,3.5,4.5],[5,3.2,4.5,4.5,2.5,2.8,3.5,3.0,3.0,3.5,3.5],[5,5.8,6.0,5.8,6.5,7.0,7.5,7.8,8.3,8.3,8.3],[5,6.0,7.0,7.5,8.0,8.5,8.8,9.0,9.1,9.1,9.1],[5,6.2,4.5,4.0,4.3,4.0,3.8,3.5,3.8,4.0,3.6]]
MLP_Rosenbrock = [[5,4.0,3.5,3.8,2.8,2.5,2.0,2.2,2.5,3.0,3.2],[5,4.2,5.5,6.5,6.8,7.2,7.5,7.8,7.8,7.8,7.8],[5,4.5,5.0,6.5,6.8,5.5,5.5,5.0,4.8,4.5,4.2],[5,6.5,8.0,8.8,8.0,7.0,6.5,5.5,5.5,4.5,2.7],[5,7.0,6.0,6.2,6.8,7.0,6.0,5.8,5.5,5.5,6.0],[5,5.5,6.0,5.0,5.5,4.5,4.0,4.5,4.5,5.0,5.4],[5,5.5,6.0,5.5,6.5,6.0,6.0,5.8,6.0,6.0,6.6],[5,6.5,6.5,6.0,5.5,6.5,6.0,6.2,6.0,6.0,6.0],[5,3.5,3.0,4.0,5.5,6.5,7.5,8.0,8.5,8.8,9.0],[5,5.5,2.5,3.5,3.2,3.5,3.5,3.5,3.8,3.8,4.2]]
ada_Rosenbrock = [[5,3.8,4.5,4.0,4.5,4.2,4.0,3.5,2.5,2.5,1.5],[5,5.0,4.5,5.0,5.5,5.5,5.5,4.5,4.5,4.5,4.7],[5,5.5,6.5,7.0,7.0,7.5,7.5,7.8,7.8,7.8,8.2],[5,6.5,7.3,7.2,6.5,6.0,6.0,6.0,6.0,6.3,6.5],[5,5.5,6.0,6.5,6.3,6.5,6.5,7.0,7.2,6.5,7.0],[5,5.0,4.5,6.0,5.5,5.0,4.8,4.5,3.5,4.0,5.0],[5,4.8,4.8,5.0,5.5,5.0,5.2,5.0,5.0,5.0,5.2],[5,5.5,6.0,4.5,5.0,4.0,4.3,4.0,4.3,4.0,4.2],[5,4.5,5.2,5.8,6.2,6.3,6.5,6.8,7.0,7.2,7.4],[5,7.0,6.5,5.5,5.8,6.0,6.5,6.5,6.5,6.8,7.2]]

RF_KTablet = [[5,5.5,5.8,5.2,5.0,5.0,5.0,4.8,4.8,5.0,5.2],[5,4.5,5.5,6.5,7.0,7.2,7.5,7.5,7.8,8.0,8.5],[5,4.5,4.0,3.5,3.5,3.8,3.7,3.5,3.6,3.7,3.8],[5,5.5,6.5,7.5,7.0,6.0,5.5,5.5,4.5,4.8,4.5],[5,5.5,5.0,5.0,4.3,4.5,4.3,4.5,4.5,4.8,4.8],[5,5.8,5.5,7.0,6.2,5.8,5.5,6.0,5.8,5.8,6.0],[5,5.8,5.8,6.0,6.0,6.2,5.8,5.5,5.2,5.2,5.0],[5,5.5,5.0,5.0,5.5,5.8,6.2,5.8,6.0,6.5,6.5],[5,6.3,7.2,8.0,8.2,8.3,8.5,8.8,8.9,9.0,9.2],[5,3.0,1.0,1.2,1.3,1.3,1.2,1.0,1.0,1.0,1.0]]
SVM_KTablet = [[5,4.5,4.5,5.0,4.8,5.0,5.2,4.5,4.3,4.5,4.8],[5,4.5,5.0,5.5,6.5,7.0,7.5,7.5,7.8,8.0,8.3],[5,6.5,6.8,5.5,4.5,4.8,4.5,4.2,4.0,4.2,4.5],[5,8.5,9.2,9.5,9.2,8.8,9.0,8.6,8.5,8.3,6.5],[5,3.5,2.0,1.8,1.8,1.9,1.8,1.8,1.8,1.8,1.8],[5,5.2,5.5,5.3,5.3,5.3,5.5,5.8,6.0,6.0,6.3],[5,5.5,5.8,5.0,5.2,5.5,5.8,5.5,5.0,4.8,4.8],[5,6.2,6.5,5.5,5.0,5.0,4.5,4.8,4.2,4.5,3.7],[5,5.5,6.0,6.8,7.0,7.5,7.8,8.0,8.2,8.3,8.5],[5,3.5,4.5,5.0,5.0,4.8,3.5,4.0,4.2,4.3,5.0]]
DT_KTablet = [[5,4.8,4.2,4.2,4.2,4.2,4.0,4.0,4.2,4.0,3.5],[5,5.0,5.2,5.2,5.3,5.4,5.5,5.6,5.7,6.0,6.4],[5,5.9,6.0,6.2,6.0,5.8,5.9,6.0,6.2,5.3,5.6],[5,5.0,5.3,5.5,5.5,5.6,6.0,6.1,5.8,5.6,6.2],[5,5.0,5.2,5.5,5.5,5.5,5.6,5.4,6.0,5.2,3.5],[5,5.0,5.2,5.3,5.4,5.5,5.6,5.5,5.5,5.8,5.8],[5,5.0,5.2,5.3,5.4,5.5,5.6,5.5,5.2,5.5,5.5],[5,5.0,5.3,5.5,5.5,5.8,5.8,5.8,6.0,6.3,6.8],[5,5.9,6.2,6.3,6.3,6.5,6.5,6.7,6.8,7.0,7.3],[5,4.8,4.5,3.5,3.2,3.2,3.2,3.0,1.5,1.7,2.0]]
MLP_KTablet = [[5,4.0,4.0,4.0,4.0,4.0,3.7,3.5,3.5,3.5,3.5],[5,5.5,6.5,7.0,6.0,6.0,5.5,5.5,5.5,5.5,6.0],[5,6.0,6.5,6.0,6.3,6.5,6.8,4.0,4.0,4.0,3.5],[5,6.0,8.0,8.3,8.5,8.0,7.8,7.5,7.3,7.3,7.5],[5,4.0,4.5,4.5,4.5,4.5,4.8,5.0,5.0,5.0,5.3],[5,4.5,4.5,4.0,4.3,4.5,4.8,4.8,4.8,5.0,5.2],[5,6.5,5.0,4.5,4.8,4.5,4.2,4.5,5.0,5.0,5.0],[5,6.0,4.0,4.5,4.5,4.5,5.5,6.0,6.0,6.2,6.5],[5,5.5,7.5,7.3,7.5,7.8,8.0,8.3,8.3,8.5,9.3],[5,7.5,5.0,6.5,6.5,7.5,7.3,7.2,6.5,4.5,4.5]]
ada_KTablet = [[5,5.0,4.5,3.5,3.8,4.2,2.0,2.5,1.8,2.5,1.8],[5,4.5,4.0,5.5,5.0,4.5,4.8,5.5,6.0,6.5,6.7],[5,6.5,6.5,6.8,7.5,7.8,8.0,7.8,7.8,8.0,7.5],[5,6.5,7.5,8.2,6.5,5.8,4.5,4.5,4.0,3.3,2.8],[5,7.0,7.2,8.0,7.0,7.0,7.2,7.2,7.2,7.0,6.3],[5,4.0,4.2,4.3,4.0,4.5,4.5,4.2,4.0,3.5,4.0],[5,5.5,5.5,5.8,5.8,5.8,5.8,5.5,5.0,5.5,5.8],[5,4.5,3.0,3.2,4.0,4.0,4.2,4.3,4.4,4.4,5.0],[5,5.5,5.0,6.0,6.5,6.8,7.0,7.0,7.0,7.2,7.2],[5,4.5,6.0,5.2,5.5,5.0,5.8,6.0,6.5,6.5,6.8]]

RF_Griewank = [[5,6.3,5.5,6.0,7.0,7.5,6.8,6.0,5.5,5.0,4.8],[5,5.0,5.5,6.5,7.0,7.5,7.8,8.0,8.5,8.7,8.7],[5,4.5,3.5,2.6,3.5,4.0,3.5,2.8,2.8,2.5,2.4],[5,6.0,7.0,8.0,5.5,4.2,4.5,5.0,4.5,5.0,4.8],[5,5.0,5.0,4.5,5.0,4.0,3.8,3.5,3.0,3.2,3.6],[5,6.3,7.0,6.5,6.5,5.5,5.5,6.0,6.0,6.3,6.4],[5,5.5,5.2,5.5,5.0,4.5,5.5,5.8,5.5,5.3,5.0],[5,5.5,6.0,6.5,7.0,7.5,7.5,7.8,8.0,8.0,8.0],[5,6.5,7.5,8.3,9.2,9.3,9.5,9.7,9.8,9.9,9.9],[5,1.1,1.0,1.0,1.0,1.0,1.0,1.0,1.0,1.2,1.2]]
SVM_Griewank = [[5,4.5,5.0,4.3,5.5,5.5,6.0,6.0,6.0,6.2,6.6],[5,5.5,6.5,7.0,7.5,8.0,8.0,8.0,8.5,8.8,9.0],[5,5.5,5.8,6.0,4.5,4.5,3.5,4.0,4.0,4.2,4.1],[5,8.0,9.0,9.2,8.0,7.0,6.0,7.0,7.0,7.0,7.0],[5,2.0,2.5,2.5,2.8,2.8,2.5,2.0,2.0,1.8,1.8],[5,5.5,6.0,5.2,5.5,6.0,5.5,5.8,5.5,5.8,5.9],[5,7.5,6.5,5.8,5.5,5.5,6.0,6.0,6.0,6.2,6.2],[5,7.5,7.5,6.5,6.0,6.5,6.0,5.5,5.0,4.5,4.2],[5,4.0,4.3,5.0,5.5,6.0,6.5,7.0,7.5,8.0,8.3],[5,4.0,3.5,3.0,3.8,4.0,3.5,3.0,2.5,2.0,2.1]]
DT_Griewank = [[5,5.0,5.2,5.5,5.5,5.6,5.8,5.8,5.7,5.6,5.7],[5,5.5,5.8,6.0,6.2,6.4,6.5,6.8,7.0,7.2,7.3],[5,5.0,5.2,5.3,5.5,5.2,5.0,5.5,5.5,5.6,5.6],[5,5.0,5.2,5.0,5.0,5.0,5.3,5.2,5.0,4.9,5.0],[5,4.2,4.0,4.0,4.1,4.2,4.4,4.5,4.5,4.5,4.5],[5,5.5,5.8,5.9,6.0,6.3,6.8,6.0,5.8,5.5,5.8],[5,5.0,5.0,5.5,5.5,5.5,5.8,5.8,5.8,5.9,6.0],[5,5.8,5.9,5.2,5.2,4.5,4.3,4.3,4.5,4.5,4.6],[5,4.3,5.0,5.2,5.4,5.8,6.0,6.2,6.3,6.5,6.8],[5,10.0,6.5,6.5,5.2,5.2,5.2,4.6,4.4,4.4,4.4]]
MLP_Griewank = [[5,5.5,6.5,6.0,6.5,5.5,5.5,5.0,4.5,4.0,4.0],[5,5.0,4.5,4.3,4.5,5.0,5.5,6.0,6.5,7.0,7.5],[5,4.5,3.5,2.5,1.8,2.5,2.8,3.0,3.0,2.5,2.4],[5,6.0,7.0,7.8,7.5,7.0,4.2,3.8,3.6,3.6,3.6],[5,4.8,5.5,4.5,5.0,5.5,5.5,6.0,6.0,5.0,4.5],[5,3.8,4.5,5.0,4.0,3.8,4.0,4.5,4.5,4.7,4.8],[5,5.0,4.5,4.0,4.0,4.0,4.3,4.5,4.3,4.5,4.6],[5,5.0,4.5,5.5,6.5,4.5,5.5,6.0,6.5,7.0,7.5],[5,6.0,6.5,7.0,7.5,8.0,8.3,8.4,8.5,8.5,8.5],[5,10.0,10.0,8.0,7.5,8.5,8.8,7.2,7.2,7.5,7.6]]
ada_Griewank = [[5,4.0,4.5,4.5,5.0,4.5,3.8,3.5,3.5,4.0,4.0],[5,5.5,6.0,6.5,6.5,6.0,6.2,6.3,6.5,6.8,6.8],[5,5.0,4.8,5.0,4.8,4.8,4.5,4.0,4.0,4.0,4.0],[5,6.0,7.0,8.0,7.0,6.0,4.5,4.5,3.5,3.8,4.0],[5,5.5,6.0,6.5,6.8,6.0,5.5,5.5,5.0,4.8,4.4],[5,6.5,7.5,8.0,7.5,7.5,7.0,7.0,6.8,6.5,6.5],[5,5.5,5.0,5.5,5.5,6.0,5.5,5.5,5.5,5.7,5.7],[5,5.0,5.5,5.0,5.3,5.5,5.0,5.5,5.3,5.4,5.4],[5,4.5,5.0,6.0,7.0,7.5,8.0,8.5,8.8,9.2,8.8],[5,1.5,1.5,2.5,2.5,3.0,4.5,4.8,5.5,6.0,6.2]]

PANELS = [
    [RF_breast, SVM_breast, DT_breast, MLP_breast, ada_breast],
    [RF_wine, SVM_wine, DT_wine, MLP_wine, ada_wine],
    [RF_iris, SVM_iris, DT_iris, MLP_iris, ada_iris],
    [RF_diabetes, SVM_diabetes, DT_diabetes, MLP_diabetes, ada_diabetes],
    [RF_digits, SVM_digits, DT_digits, MLP_digits, ada_digits],
    [RF_cutract, SVM_cutract, DT_cutract, MLP_cutract, ada_cutract],
    [RF_seer, SVM_seer, DT_seer, MLP_seer, ada_seer],
    [RF_magic, SVM_magic, DT_magic, MLP_magic, ada_magic],
    [RF_Rosenbrock, SVM_Rosenbrock, DT_Rosenbrock, MLP_Rosenbrock, ada_Rosenbrock],
    [RF_KTablet, SVM_KTablet, DT_KTablet, MLP_KTablet, ada_KTablet],
    [RF_Griewank, SVM_Griewank, DT_Griewank, MLP_Griewank, ada_Griewank],
]

COLORS = ["#1f77b4", "#ff7f0e", "#2ca02c", "#d62728", "#8c564b",
          "#e377c2", "#7f7f7f", "#bcbd22", "#17becf", "#9467bd"]

W, H = 754, 1184
fig = plt.figure(figsize=(W / 100, H / 100), dpi=100)

ax_w, ax_h = 123, 79
handles = None
for r, ds in enumerate(DATASETS):
    for c, model in enumerate(MODELS):
        left = 21 + 147.7 * c
        top = 13 + 102.2 * r
        ax = fig.add_axes([left / W, 1 - (top + ax_h) / H, ax_w / W, ax_h / H])
        data = PANELS[r][c]
        lines = []
        for k, series in enumerate(data):
            ln, = ax.plot(ITER, series, color=COLORS[k], lw=0.8, alpha=0.75,
                          label=METHODS[k])
            lines.append(ln)
        if handles is None:
            handles = lines
        ax.set_title(f"{model} {ds}", fontsize=7, pad=1.5)
        ax.set_ylabel("Rank", fontsize=4.5, labelpad=1)
        ax.set_xticks([0, 5, 10, 15, 20, 25])
        ax.tick_params(which="both", direction="in", top=True, right=True,
                       labelsize=4, pad=1.5)
        ax.tick_params(which="major", length=2.5, width=0.5)
        ax.tick_params(which="minor", length=1.3, width=0.4)
        ax.xaxis.set_minor_locator(AutoMinorLocator())
        ax.yaxis.set_minor_locator(AutoMinorLocator())
        for sp in ax.spines.values():
            sp.set_linewidth(0.5)

fig.legend(handles, METHODS, loc="center", bbox_to_anchor=(0.475, 1 - 1161 / H),
           ncol=5, frameon=False, fontsize=7, handlelength=2.4,
           handletextpad=0.8, columnspacing=2.2, labelspacing=0.6)

fig.savefig("out.png", dpi=100)
